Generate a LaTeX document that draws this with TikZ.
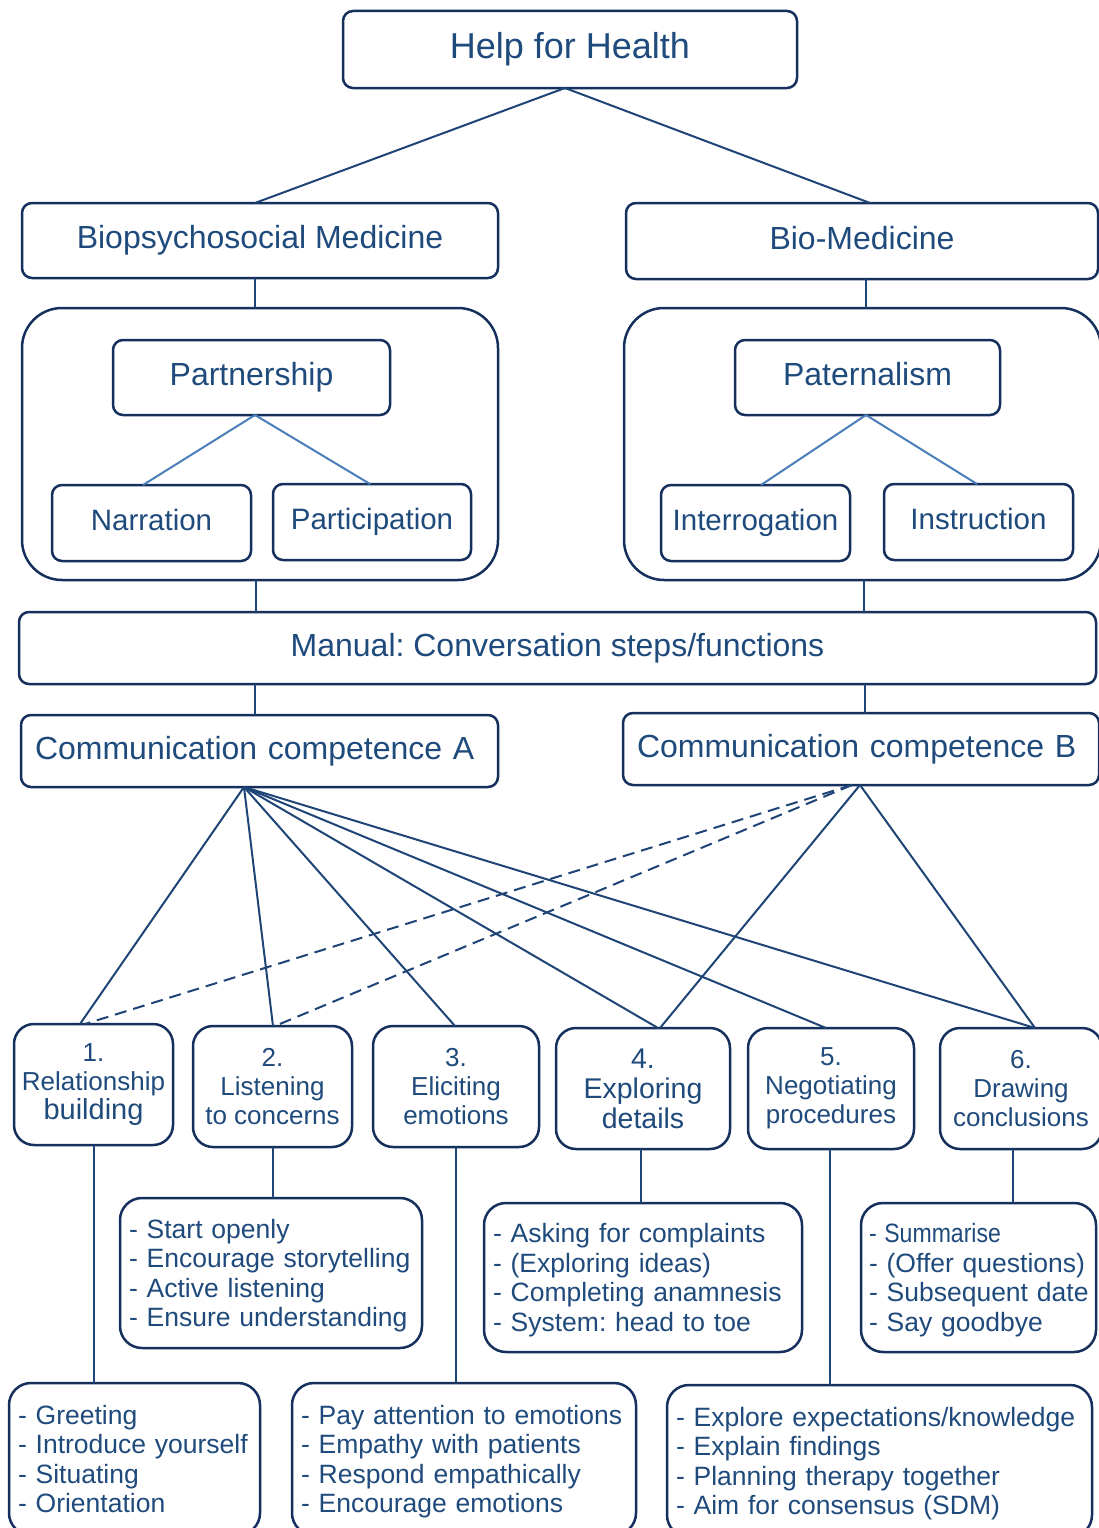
\documentclass[tikz,border=0pt]{standalone}
\usepackage{fontspec}
\usepackage{graphicx}
\setmainfont{Liberation Sans}
\usetikzlibrary{calc}
\frenchspacing

\definecolor{ink}{HTML}{1F4A7C}
\definecolor{frame}{HTML}{15305C}
\definecolor{wire}{HTML}{1F4476}
\definecolor{softwire}{HTML}{4A7EBB}

% struts that give every list the same first-line height and last-line depth
\newcommand\lead{\rule{0pt}{25pt}}
\newcommand\tail{\rule[-6pt]{0pt}{6pt}}

\tikzset{
  box/.style={draw=frame, line width=2.5pt, rounded corners=10pt, text=ink,
    inner sep=0pt, outer sep=0pt, align=center},
  bigtext/.style={font=\fontsize{32}{36}\selectfont, text height=23pt, text depth=7pt},
  midtext/.style={font=\fontsize{29.5}{32}\selectfont, text height=21pt, text depth=6.5pt},
  holder/.style={draw=frame, line width=2.5pt, rounded corners=40pt,
    inner sep=0pt, outer sep=0pt},
  compbox/.style={box, align=left, inner xsep=14pt, bigtext},
  stepbox/.style={box, rounded corners=20pt, font=\fontsize{26}{29}\selectfont},
  listbox/.style={draw=frame, line width=2.5pt, rounded corners=22pt, text=ink,
    inner xsep=9pt, inner ysep=0pt, outer sep=0pt, align=left, anchor=north west,
    font=\fontsize{26.5}{29.5}\selectfont},
  wire/.style={draw=wire, line width=2pt},
  softwire/.style={draw=softwire, line width=2pt},
  dashwire/.style={draw=wire, line width=2pt, dash pattern=on 12pt off 7pt}
}

\begin{document}
\begin{tikzpicture}[x=1pt,y=-1pt]
\clip (0,0) rectangle (1099,1528);
\fill[white] (0,0) rectangle (1099,1528);

% top level
\node[box, minimum width=454pt, minimum height=77pt, font=\fontsize{36}{40}\selectfont,
  text height=26pt, text depth=8pt] (help) at (570,49.5) {Help for Health};
\node[box, bigtext, minimum width=476pt, minimum height=75pt] (bps) at (260,240.5) {Biopsychosocial Medicine};
\node[box, bigtext, minimum width=472pt, minimum height=76pt] (bmed) at (862,241) {Bio-Medicine};

% model containers
\node[holder, minimum width=476pt, minimum height=272pt] (lcont) at (260,444) {};
\node[holder, minimum width=477pt, minimum height=272pt] (rcont) at (862.5,444) {};

\node[box, bigtext, minimum width=277pt, minimum height=75pt] (part) at (251.5,377.5) {Partnership};
\node[box, midtext, minimum width=199pt, minimum height=76pt] (narr) at (151.5,523) {Narration};
\node[box, midtext, minimum width=198pt, minimum height=76pt] (parti) at (372,522) {Participation};

\node[box, bigtext, minimum width=265pt, minimum height=75pt] (pat) at (867.5,377.5) {Paternalism};
\node[box, midtext, minimum width=189pt, minimum height=76pt] (inter) at (755.5,523) {Interrogation};
\node[box, midtext, minimum width=189pt, minimum height=76pt] (instr) at (978.5,522) {Instruction};

% manual and competences
\node[box, bigtext, minimum width=1077pt, minimum height=72pt] (manual) at (557.5,648) {Manual: Conversation steps/functions};
\node[compbox, text width=449pt, minimum height=72pt] (compA) at (259.5,751) {Communication competence A};
\node[compbox, text width=448pt, minimum height=72pt] (compB) at (861,749) {Communication competence B};

% conversation steps
\node[stepbox, minimum width=159pt, minimum height=121pt] (s1) at (93.5,1084.5)
  {1.\\Relationship\\{\fontsize{29}{29}\selectfont building}};
\node[stepbox, minimum width=159pt, minimum height=121pt] (s2) at (272.5,1086.5)
  {2.\\Listening\\to concerns};
\node[stepbox, minimum width=166pt, minimum height=121pt] (s3) at (456,1086.5)
  {3.\\Eliciting\\emotions};
\node[stepbox, minimum width=174pt, minimum height=121pt, font=\fontsize{28.5}{30}\selectfont] (s4) at (643,1088.5)
  {4.\\Exploring\\details};
\node[stepbox, minimum width=166pt, minimum height=121pt] (s5) at (831,1088.5)
  {5.\\Negotiating\\procedures};
\node[stepbox, minimum width=162pt, minimum height=121pt] (s6) at (1021,1088.5)
  {6.\\Drawing\\conclusions};

% step contents
\node[listbox, text width=284pt, minimum height=150pt] (l2) at (120,1198)
  {\lead- Start openly\\- Encourage storytelling\\- Active listening\\- Ensure understanding\tail};
\node[listbox, text width=300pt, minimum height=149pt] (l4) at (484,1203)
  {\lead- Asking for complaints\\- (Exploring ideas)\\- Completing anamnesis\\- System: head to toe\tail};
\node[listbox, inner xsep=8pt, text width=219pt, minimum height=149pt] (l6) at (861,1203)
  {\lead\mbox{\scalebox{0.87}[1]{- Summarise}}\\\mbox{- (Offer questions)}\\\mbox{- Subsequent date}\\\mbox{- Say goodbye}\tail};
\node[listbox, text width=233pt, minimum height=152pt] (l1) at (9,1383)
  {\lead- Greeting\\- Introduce yourself\\- Situating\\- Orientation\tail};
\node[listbox, text width=326pt, minimum height=152pt] (l3) at (292,1383)
  {\lead- Pay attention to emotions\\- Empathy with patients\\- Respond empathically\\- Encourage emotions\tail};
\node[listbox, text width=407pt, minimum height=152pt] (l5) at (667,1385)
  {\lead- Explore expectations/knowledge\\- Explain findings\\- Planning therapy together\\- Aim for consensus (SDM)\tail};

% upper connectors
\draw[wire] ([xshift=-5pt]help.south) -- ([xshift=-5pt]bps.north);
\draw[wire] ([xshift=-5pt]help.south) -- ([xshift=8pt]bmed.north);
\draw[wire] ([xshift=-5pt]bps.south) -- ([xshift=-5pt]bps.south |- lcont.north);
\draw[wire] ([xshift=4pt]bmed.south) -- ([xshift=4pt]bmed.south |- rcont.north);
\draw[softwire] ([xshift=3.5pt]part.south) -- ([xshift=-8.5pt]narr.north);
\draw[softwire] ([xshift=3.5pt]part.south) -- ([xshift=-2pt]parti.north);
\draw[softwire] ([xshift=-1.5pt]pat.south) -- ([xshift=5.5pt]inter.north);
\draw[softwire] ([xshift=-1.5pt]pat.south) -- ([xshift=-1.5pt]instr.north);
\draw[wire] ([xshift=-4pt]lcont.south) -- ([xshift=-4pt]lcont.south |- manual.north);
\draw[wire] ([xshift=1.5pt]rcont.south) -- ([xshift=1.5pt]rcont.south |- manual.north);
\draw[wire] ([xshift=-4.5pt]compA.north |- manual.south) -- ([xshift=-4.5pt]compA.north);
\draw[wire] ([xshift=4pt]compB.north |- manual.south) -- ([xshift=4pt]compB.north);

% competence fans
\coordinate (hubA) at ([xshift=-15.5pt]compA.south);
\coordinate (hubB) at ([xshift=-1pt]compB.south);
\coordinate (hubBd) at ([xshift=-9pt]compB.south);
\foreach \t/\sh in {s1/-13.5, s2/0.5, s3/-1, s4/15, s5/-5, s6/14}
  \draw[wire] (hubA) -- ([xshift=\sh pt]\t.north);
\draw[wire] (hubB) -- ([xshift=17pt]s4.north);
\draw[wire] (hubB) -- ([xshift=14pt]s6.north);
\draw[dashwire] (hubBd) -- ([xshift=-8.5pt]s1.north);
\draw[dashwire] (hubBd) -- ([xshift=2.5pt]s2.north);

% step to content
\draw[wire] (s1.south) -- (s1.south |- l1.north);
\draw[wire] (s2.south) -- (s2.south |- l2.north);
\draw[wire] (s3.south) -- (s3.south |- l3.north);
\draw[wire] ([xshift=-2pt]s4.south) -- ([xshift=-2pt]s4.south |- l4.north);
\draw[wire] ([xshift=-1pt]s5.south) -- ([xshift=-1pt]s5.south |- l5.north);
\draw[wire] ([xshift=-8pt]s6.south) -- ([xshift=-8pt]s6.south |- l6.north);
\end{tikzpicture}
\end{document}
